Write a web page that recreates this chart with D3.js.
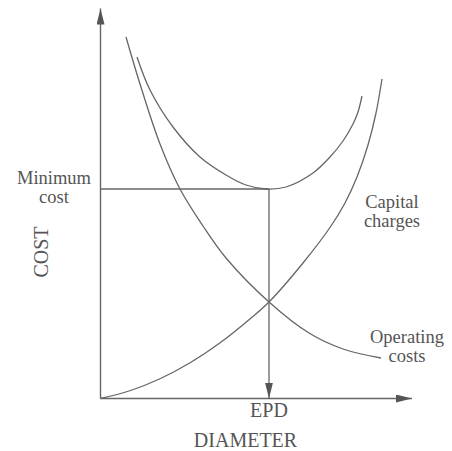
<!DOCTYPE html>
<html><head><meta charset="utf-8">
<script src="https://cdn.jsdelivr.net/npm/d3@7"></script>
<style>body{margin:0;background:#fff}svg{display:block}text{font-family:"Liberation Serif","Times New Roman",serif;fill:#555}</style>
</head><body>
<svg id="c" width="452" height="451"></svg>
<script>
// Data (arbitrary units: diameter on x, cost on y)
const capitalCharges = [[0,0],[3,0.8],[6,2.0],[9,3.6],[12,5.6],[15,8.0],[16.85,9.65],[20.25,13.55],[23.05,17.25],[24.45,19.55],[25.65,22.15],[26.75,25.35],[27.55,28.55],[28.15,31.95]];
const operatingCosts = [[2.55,36.15],[3.95,31.45],[5.95,25.45],[7.95,20.95],[10.25,17.25],[12.55,14.05],[16.85,9.65],[20.85,6.55],[24.25,4.95],[28.05,4.05]];
const totalCost = [[3.65,34.15],[4.95,30.85],[7.25,27.15],[9.95,24.15],[12.55,22.35],[14.55,21.35],[16.55,20.95],[18.55,21.15],[21.25,22.55],[22.95,24.15],[24.25,25.75],[25.25,27.45],[25.75,28.65],[26.15,30.25]];
const optimum = {x:16.85, y:20.95};
const labels = {yAxis:"COST", xAxis:"DIAMETER", epd:"EPD", minCost:["Minimum","cost"], capital:["Capital","charges"], operating:["Operating","costs"]};

const svg = d3.select("#c");
const x = d3.scaleLinear().domain([0,31.15]).range([100.5,412]);
const y = d3.scaleLinear().domain([0,39]).range([398.5,8.5]);
const stroke = "#666";

const defs = svg.append("defs");
defs.append("marker").attr("id","ah").attr("viewBox","0 0 16 8").attr("refX",16).attr("refY",4)
  .attr("markerWidth",16).attr("markerHeight",8).attr("markerUnits","userSpaceOnUse").attr("orient","auto")
  .append("path").attr("d","M0,0L16,4L0,8Z").attr("fill","#555");

// axes
svg.append("line").attr("x1",x(0)).attr("y1",y(0)).attr("x2",x(0)).attr("y2",y(39)).attr("stroke",stroke).attr("stroke-width",1.4).attr("marker-end","url(#ah)");
svg.append("line").attr("x1",x(0)).attr("y1",y(0)).attr("x2",x(31.15)).attr("y2",y(0)).attr("stroke",stroke).attr("stroke-width",1.4).attr("marker-end","url(#ah)");

// guide lines
svg.append("line").attr("x1",x(0)).attr("y1",y(optimum.y)).attr("x2",x(optimum.x)).attr("y2",y(optimum.y)).attr("stroke",stroke).attr("stroke-width",1.3);
svg.append("line").attr("x1",x(optimum.x)).attr("y1",y(optimum.y)).attr("x2",x(optimum.x)).attr("y2",y(0)).attr("stroke",stroke).attr("stroke-width",1.3).attr("marker-end","url(#ah)");

const line = d3.line().x(d=>x(d[0])).y(d=>y(d[1])).curve(d3.curveCatmullRom.alpha(0.5));
[capitalCharges, operatingCosts, totalCost].forEach(s=>{
  svg.append("path").attr("d",line(s)).attr("fill","none").attr("stroke",stroke).attr("stroke-width",1.3);
});

function multi(lines, cx, by, gap){
  const t = svg.append("text").attr("text-anchor","middle").attr("font-size",18.5);
  lines.forEach((s,i)=>t.append("tspan").attr("x",cx).attr("y",by+i*gap).text(s));
}
multi(labels.minCost, 54, y(optimum.y)-5, 18.5);
multi(labels.capital, 392, 208, 18.5);
multi(labels.operating, 407, 343, 18.5);
svg.append("text").attr("x",x(optimum.x)).attr("y",417).attr("text-anchor","middle").attr("font-size",20).text(labels.epd);
svg.append("text").attr("x",245.5).attr("y",447).attr("text-anchor","middle").attr("font-size",20).text(labels.xAxis);
svg.append("text").attr("transform","translate(48,252) rotate(-90)").attr("text-anchor","middle").attr("font-size",20).text(labels.yAxis);
</script>
</body></html>
